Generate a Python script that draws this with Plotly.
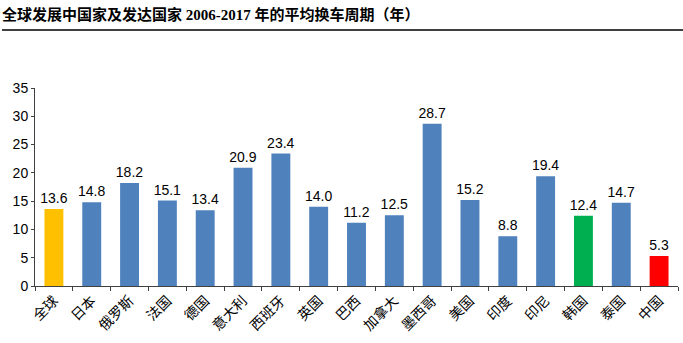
import plotly.graph_objects as go

categories = ["全球", "日本", "俄罗斯", "法国", "德国", "意大利", "西班牙", "英国", "巴西",
              "加拿大", "墨西哥", "美国", "印度", "印尼", "韩国", "泰国", "中国"]
values = [13.6, 14.8, 18.2, 15.1, 13.4, 20.9, 23.4, 14.0, 11.2, 12.5, 28.7, 15.2, 8.8, 19.4, 12.4, 14.7, 5.3]
colors = ["#FFC000"] + ["#4F81BD"] * 13 + ["#00B050", "#4F81BD", "#FF0000"]
title = "全球发展中国家及发达国家 2006-2017 年的平均换车周期（年）"

fig = go.Figure(go.Bar(
    x=categories, y=values, marker=dict(color=colors, line=dict(width=0)),
    width=0.5, texttemplate="%{y:.1f}", textposition="outside", constraintext="none",
    textfont=dict(family="Arial, Liberation Sans", size=14, color="#000"),
    cliponaxis=False,
))

fig.update_layout(
    width=683, height=343, margin=dict(l=35, r=5, t=88, b=57),
    plot_bgcolor="white", paper_bgcolor="white", showlegend=False,
    font=dict(family="Arial, Liberation Sans, Noto Sans CJK SC", color="#000"),
    annotations=[dict(text="<b>" + title + "</b>", xref="paper", yref="paper",
                      x=-35/643, y=1 + 73/198, xanchor="left", yanchor="middle", showarrow=False,
                      font=dict(family="Liberation Serif, Noto Sans CJK SC", size=15, color="#000"))],
    shapes=[dict(type="line", xref="paper", yref="paper", x0=-33/643, x1=1 + 5/643,
                 y0=1 + 58/198, y1=1 + 58/198, line=dict(color="#000", width=1.5))],
)
fig.update_yaxes(range=[0, 35], dtick=5, showgrid=False, showline=True, linecolor="#404040",
                 ticks="outside", ticklen=3, tickcolor="#404040",
                 tickfont=dict(size=14, family="Arial, Liberation Sans"), zeroline=False)
fig.update_xaxes(showline=True, linecolor="#404040", ticks="outside", ticklen=4, tickcolor="#404040",
                 tickson="boundaries", tickangle=-45,
                 tickfont=dict(size=14, family="Noto Sans CJK SC"))

fig.write_html("out.html")
